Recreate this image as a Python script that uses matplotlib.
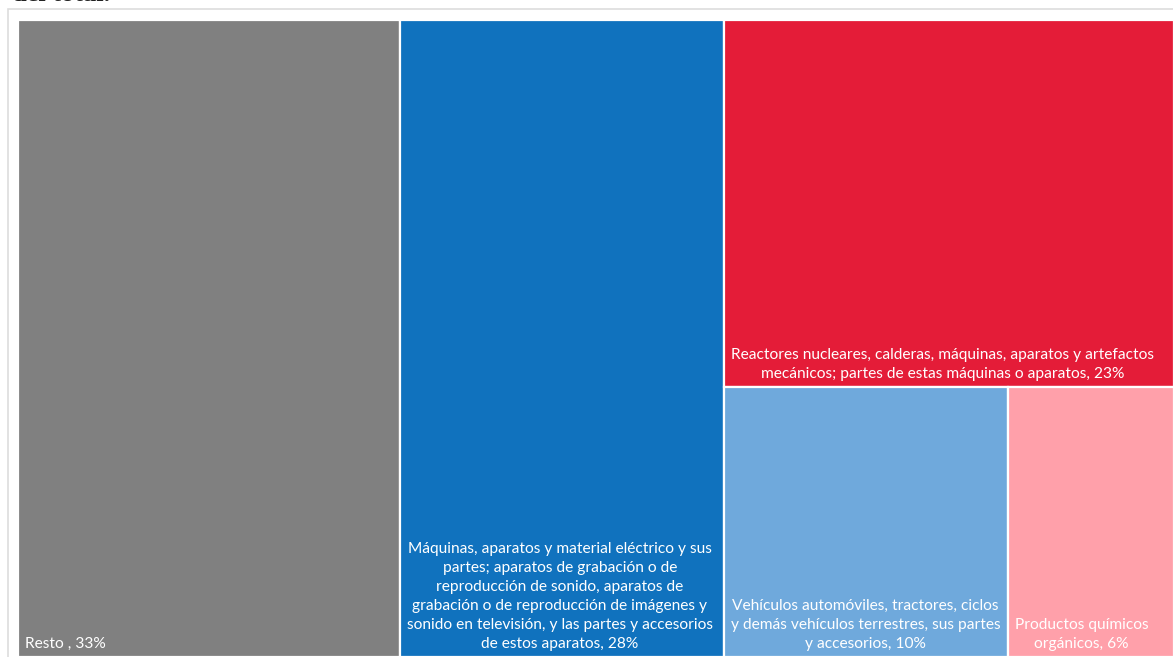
import matplotlib
matplotlib.use("Agg")
import matplotlib.pyplot as plt
from matplotlib.patches import Rectangle

# ---- data ----
categories = [
    "Resto ",
    "Máquinas, aparatos y material eléctrico y sus\npartes; aparatos de grabación o de\nreproducción de sonido, aparatos de\ngrabación o de reproducción de imágenes y\nsonido en televisión, y las partes y accesorios\nde estos aparatos",
    "Reactores nucleares, calderas, máquinas, aparatos y artefactos\nmecánicos; partes de estas máquinas o aparatos",
    "Vehículos automóviles, tractores, ciclos\ny demás vehículos terrestres, sus partes\ny accesorios",
    "Productos químicos\norgánicos",
]
values = [33.0, 28.0, 22.4, 10.4, 6.1]        # shares (area)
pct_labels = [33, 28, 23, 10, 6]               # percentages as printed
colors = ["#808080", "#1072BE", "#E41C38", "#6FA9DC", "#FFA0AA"]

W_PX, H_PX = 1173, 657
DPI = 100
fig = plt.figure(figsize=(W_PX / DPI, H_PX / DPI), dpi=DPI)
fig.patch.set_facecolor("white")

# treemap area (in pixels)
left_px, top_px = 18, 20
tm_w, tm_h = 1156, 637
ax = fig.add_axes([left_px / W_PX, 1 - (top_px + tm_h) / H_PX, tm_w / W_PX, tm_h / H_PX])
ax.set_xlim(0, tm_w)
ax.set_ylim(tm_h, 0)
ax.axis("off")


# ---- squarify layout ----
def worst(row, w):
    s = sum(row)
    return max(max(w * w * r / (s * s), (s * s) / (w * w * r)) for r in row)


def layout_row(sizes, x, y, dx, dy):
    width = sum(sizes) / dy
    rects = []
    for s in sizes:
        h = s / width
        rects.append((x, y, width, h))
        y += h
    return rects


def layout_col(sizes, x, y, dx, dy):
    height = sum(sizes) / dx
    rects = []
    for s in sizes:
        w = s / height
        rects.append((x, y, w, height))
        x += w
    return rects


def leftover(sizes, x, y, dx, dy):
    if dx >= dy:
        width = sum(sizes) / dy
        return x + width, y, dx - width, dy
    height = sum(sizes) / dx
    return x, y + height, dx, dy - height


def squarify(sizes, x, y, dx, dy):
    if not sizes:
        return []
    if len(sizes) == 1:
        return layout_row(sizes, x, y, dx, dy) if dx >= dy else layout_col(sizes, x, y, dx, dy)
    i = 1
    short = min(dx, dy)
    while i < len(sizes) and worst(sizes[:i], short) >= worst(sizes[: i + 1], short):
        i += 1
    current, rest = sizes[:i], sizes[i:]
    rects = layout_row(current, x, y, dx, dy) if dx >= dy else layout_col(current, x, y, dx, dy)
    lx, ly, ldx, ldy = leftover(current, x, y, dx, dy)
    return rects + squarify(rest, lx, ly, ldx, ldy)


total = sum(values)
norm = [v * tm_w * tm_h / total for v in values]
rects = squarify(norm, 0, 0, tm_w, tm_h)

FONT = ["Lato", "DejaVu Sans"]
for (x, y, w, h), cat, p, c in zip(rects, categories, pct_labels, colors):
    ax.add_patch(Rectangle((x, y), w, h, facecolor=c, edgecolor="white", linewidth=1.6))
    label = f"{cat}, {p}%"
    ax.text(x + 7, y + h - 6, label, ha="left", va="bottom",
            multialignment="center", color="white", fontsize=11.2, family=FONT,
            linespacing=1.45)

# outer light frame
fig.add_artist(Rectangle((7.5 / W_PX, -0.1), 1.2, 1.1 - 8.5 / H_PX, transform=fig.transFigure,
                         facecolor="none", edgecolor="#dddddd", linewidth=1.2, zorder=-1))

# cut-off title at the top (only the bottom edge of its glyphs is visible)
fig.text(12 / W_PX, 1 - 0.8 / H_PX, "del total.", ha="left", va="baseline",
         fontsize=19, fontweight="bold", family=["Liberation Serif", "DejaVu Serif"], color="#222222")

fig.savefig("out.png", dpi=DPI)
